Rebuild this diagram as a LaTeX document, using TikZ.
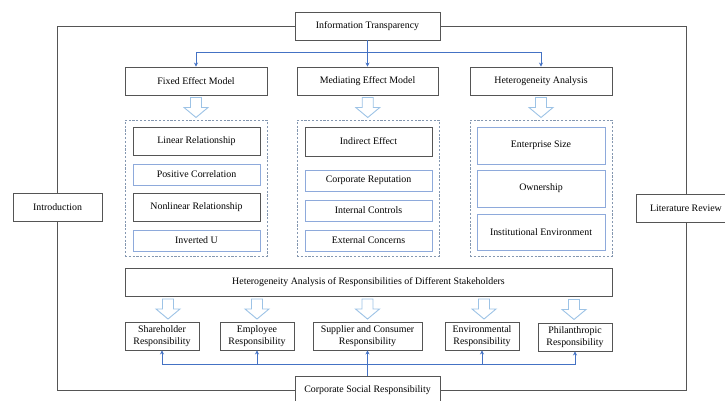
\documentclass[tikz,border=0pt]{standalone}
\usepackage{fontspec}
\setmainfont{Liberation Serif}
\usepackage{xcolor}
\usetikzlibrary{arrows.meta, positioning, calc}
\definecolor{boxgray}{HTML}{555555}
\definecolor{boxblue}{HTML}{8EAADB}
\definecolor{linkblue}{HTML}{4472C4}
\definecolor{hollowblue}{HTML}{9DC3E6}
\definecolor{dashgray}{HTML}{8497B0}

\begin{document}
\begin{tikzpicture}[>=stealth, x=1pt, y=-1pt, font=\fontsize{9.9}{12}\selectfont,
    box/.style={draw=boxgray, line width=0.9pt, fill=white, align=center, inner sep=0pt, minimum height=28pt},
    bluebox/.style={draw=boxblue, line width=0.9pt, fill=white, align=center, inner sep=0pt, minimum height=21pt, minimum width=127pt},
    group/.style={draw=dashgray, dash pattern=on 2.2pt off 1.6pt, line width=0.9pt, inner sep=0pt, minimum width=142pt, minimum height=136pt},
    link/.style={draw=linkblue, line width=0.8pt, -{Stealth[length=4pt, width=4pt]}},
    hollow/.pic={\draw[hollowblue, line width=0.9pt, fill=white] (-5.5,-10) -- (-5.5,0) -- (-12,0) -- (0,10) -- (12,0) -- (5.5,0) -- (5.5,-10) -- cycle;}]
    \useasboundingbox (0,0) rectangle (725,401);

    % 外框上的四个节点
    \node[box, minimum width=145pt] (info) at (367.5,26) {Information Transparency};
    \node[box, minimum width=145pt] (csr) at (367.5,390) {Corporate Social Responsibility};
    \node[box, minimum width=89pt] (intro) at (57.5,207) {Introduction};
    \node[box, minimum width=100pt] (lit) at (686,208) {Literature Review};
    \draw[boxgray, line width=0.9pt] (info.east) -| (lit.north) (lit.south) |- (csr.east)
        (csr.west) -| (intro.south) (intro.north) |- (info.west);

    % 三种方法
    \node[box, minimum width=142pt] (fixed) at (196,81) {Fixed Effect Model};
    \node[box, minimum width=141pt] (med) at (367.5,81) {Mediating Effect Model};
    \node[box, minimum width=142pt] (het) at (541,81) {Heterogeneity Analysis};
    \draw[link] (info.south) -- ++(0,12) -| (fixed.north);
    \draw[link] (info.south) -- ++(0,12) -| (het.north);
    \draw[link] (info.south) -- (med.north);

    % 虚线框
    \node[group] (grpa) at (196,188) {};
    \node[group] (grpb) at (368,188) {};
    \node[group] (grpc) at (541,188) {};
    \pic at ($(fixed.south)!0.5!(grpa.north)$) {hollow};
    \pic at ($(med.south)!0.5!(grpb.north)$) {hollow};
    \pic at ($(het.south)!0.5!(grpc.north)$) {hollow};

    % 固定效应
    \node[box, minimum width=127pt] (linear) at (196.5,141) {Linear Relationship};
    \node[bluebox] (positive) at (196.5,174.5) {Positive Correlation};
    \node[box, minimum width=127pt] (nonlinear) at (196.5,207) {Nonlinear Relationship};
    \node[bluebox] (invu) at (196.5,240.5) {Inverted U};

    % 中介效应
    \node[box, minimum width=127pt, minimum height=29pt] (indirect) at (368.5,141.5) {Indirect Effect};
    \node[bluebox] (reput) at (368.5,180.5) {Corporate Reputation};
    \node[bluebox] (control) at (368.5,210.5) {Internal Controls};
    \node[bluebox] (concern) at (368.5,240.5) {External Concerns};

    % 异质性
    \node[bluebox, minimum width=128pt, minimum height=37pt] (size) at (541,145.5) {Enterprise Size};
    \node[bluebox, minimum width=128pt, minimum height=37pt] (owner) at (541,188.5) {Ownership};
    \node[bluebox, minimum width=128pt, minimum height=36pt] (inst) at (541,232) {Institutional Environment};

    % 利益相关者
    \node[box, minimum width=487pt] (resp) at (368.5,282) {Heterogeneity Analysis of Responsibilities of Different Stakeholders};
    \node[box, minimum width=74pt] (share) at (162,336) {Shareholder\\Responsibility};
    \node[box, minimum width=74pt] (employ) at (257,336) {Employee\\Responsibility};
    \node[box, minimum width=109pt] (supply) at (367.5,336) {Supplier and Consumer\\Responsibility};
    \node[box, minimum width=74pt] (environ) at (482,336) {Environmental\\Responsibility};
    \node[box, minimum width=74pt] (phil) at (575,337) {Philanthropic\\Responsibility};

    \pic at ([xshift=6pt]$(share.north |- resp.south)!0.5!(share.north)$) {hollow};
    \pic at ($(employ.north |- resp.south)!0.5!(employ.north)$) {hollow};
    \pic at ($(supply.north |- resp.south)!0.5!(supply.north)$) {hollow};
    \pic at ([xshift=2pt]$(environ.north |- resp.south)!0.5!(environ.north)$) {hollow};
    \pic at ([xshift=-1pt]$(phil.north |- resp.south)!0.5!(phil.north)$) {hollow};

    \draw[link] (csr.north) -- ++(0,-11) -| (share.south);
    \draw[link] (csr.north) -- ++(0,-11) -| (employ.south);
    \draw[link] (csr.north) -- (supply.south);
    \draw[link] (csr.north) -- ++(0,-11) -| (environ.south);
    \draw[link] (csr.north) -- ++(0,-11) -| (phil.south);
\end{tikzpicture}
\end{document}
